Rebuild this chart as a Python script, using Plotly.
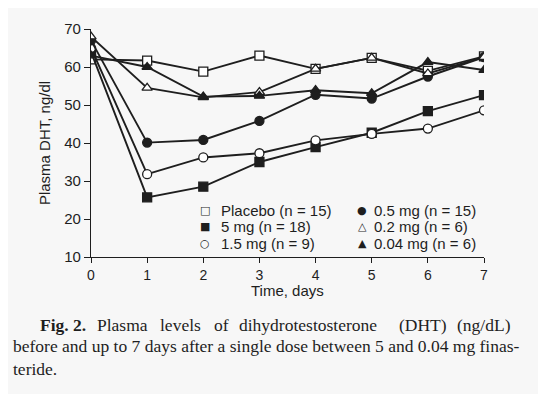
import plotly.graph_objects as go

days = [0, 1, 2, 3, 4, 5, 6, 7]
placebo = [62.0, 61.7, 58.8, 63.0, 59.5, 62.4, 59.0, 62.8]
mg5 = [64.0, 25.7, 28.5, 35.0, 38.9, 42.7, 48.4, 52.6]
mg1_5 = [65.0, 31.8, 36.2, 37.3, 40.7, 42.4, 43.8, 48.6]
mg0_5 = [67.0, 40.1, 40.8, 45.8, 52.7, 51.7, 57.5, 62.6]
mg0_2 = [68.0, 54.5, 52.0, 53.4, 59.5, 62.4, 58.3, 62.6]
mg0_04 = [63.0, 60.0, 52.2, 52.4, 53.9, 53.1, 61.3, 59.2]
y_ticks = [10, 20, 30, 40, 50, 60, 70]

series = [
    ("Placebo (n = 15)", placebo, "square", False, "\u25a1"),
    ("5 mg (n = 18)", mg5, "square", True, "\u25a0"),
    ("1.5 mg (n = 9)", mg1_5, "circle", False, "\u25cb"),
    ("0.5 mg (n = 15)", mg0_5, "circle", True, "\u25cf"),
    ("0.2 mg (n = 6)", mg0_2, "triangle-up", False, "\u25b3"),
    ("0.04 mg (n = 6)", mg0_04, "triangle-up", True, "\u25b2"),
]

ink = "#1e1e1e"
bg = "#f7f7f7"
fig = go.Figure()
for name, vals, sym, filled, glyph in series:
    fig.add_trace(go.Scatter(
        x=days, y=vals, mode="lines+markers", name=name, showlegend=False,
        line=dict(color=ink, width=1.9),
        marker=dict(symbol=sym, size=9, color=ink if filled else "white",
                    line=dict(color=ink, width=1.3)),
    ))

# page is offset by 8px body margin in the screenshot
W, H = 538, 386
L, R, T, B = 83, 62, 13, 137.3
plot_w = W - L - R
plot_h = H - T - B


def px_x(px):
    return (px - 8 - L) / plot_w


def px_y(py):
    return (H - B - (py - 8)) / plot_h


sans = "Liberation Sans, Arial, Helvetica, sans-serif"
fig.update_layout(
    width=W, height=H,
    margin=dict(l=L, r=R, t=T, b=B),
    paper_bgcolor=bg, plot_bgcolor=bg,
    font=dict(family=sans, size=14, color=ink),
    showlegend=False,
    xaxis=dict(range=[0, 7], tickvals=days, ticks="outside", ticklen=5, tickwidth=1,
               tickcolor=ink, showline=True, linecolor=ink, linewidth=1.2,
               showgrid=False, zeroline=False, tickfont=dict(size=14)),
    yaxis=dict(range=[10, 70], tickvals=y_ticks, ticks="outside",
               ticklen=6, tickwidth=1, tickcolor=ink, showline=True, linecolor=ink,
               linewidth=1.2, showgrid=False, zeroline=False, tickfont=dict(size=15),
               title=dict(text="Plasma DHT, ng/dl", standoff=9, font=dict(size=15))),
)

fig.add_annotation(text="Time, days", x=px_x(287), y=px_y(291), xref="paper", yref="paper",
                   xanchor="center", yanchor="middle", showarrow=False,
                   font=dict(family=sans, size=15, color=ink))

# legend drawn as text with glyphs, two columns
glyph_pos = [(205, 208.5), (205, 225.5), (205, 242.5),
             (362, 208.5), (362, 225.5), (362, 242.5)]
text_x = [219, 219, 219, 372, 372, 372]
for (name, vals, sym, filled, glyph), (gx, gy), tx in zip(series, glyph_pos, text_x):
    fig.add_annotation(text=glyph, x=px_x(gx), y=px_y(gy), xref="paper",
                       yref="paper", xanchor="center", yanchor="middle", showarrow=False,
                       font=dict(family="DejaVu Sans", size=11, color=ink))
    fig.add_annotation(text=name, x=px_x(tx), y=px_y(gy), xref="paper",
                       yref="paper", xanchor="left", yanchor="middle", showarrow=False,
                       font=dict(family=sans, size=15, color=ink))

serif = dict(family="Liberation Serif, Times New Roman, serif", size=17.5, color=ink)
line1 = [("<b>Fig. 2.</b>", 38), ("Plasma", 95), ("levels", 158), ("of", 212),
         ("dihydrotestosterone", 237), ("(DHT)", 397), ("(ng/dL)", 455)]
for txt, xp in line1:
    fig.add_annotation(text=txt, x=px_x(xp), y=px_y(327), xref="paper", yref="paper",
                       xanchor="left", yanchor="middle", showarrow=False, font=serif)
fig.add_annotation(text="before and up to 7 days after a single dose between 5 and 0.04 mg finas-",
                   x=px_x(11), y=px_y(349), xref="paper", yref="paper",
                   xanchor="left", yanchor="middle", showarrow=False, font=serif)
fig.add_annotation(text="teride.", x=px_x(11), y=px_y(372), xref="paper", yref="paper",
                   xanchor="left", yanchor="middle", showarrow=False, font=serif)

fig.write_html("out.html")
